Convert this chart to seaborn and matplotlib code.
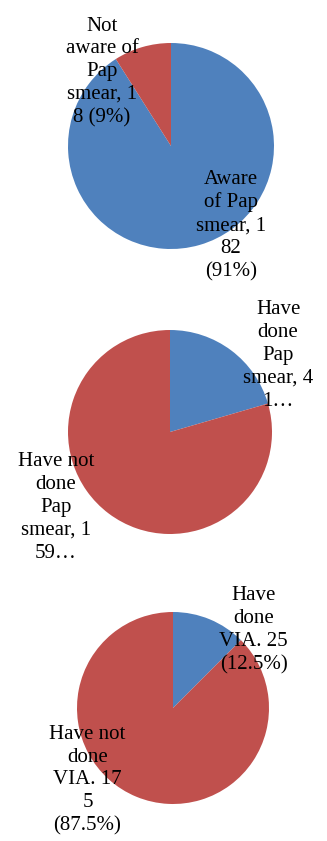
import matplotlib
matplotlib.use("Agg")
import matplotlib.pyplot as plt
import seaborn as sns

sns.set_theme(style="white")
plt.rcParams['font.family'] = ['Liberation Serif', 'DejaVu Serif']

# Data
awareness_labels = ["Aware\nof Pap\nsmear, 1\n82\n(91%)", "Not\naware of\nPap\nsmear, 1\n8 (9%)"]
awareness_values = [182, 18]
pap_labels = ["Have\ndone\nPap\nsmear, 4\n1\u2026", "Have not\ndone\nPap\nsmear, 1\n59\u2026"]
pap_values = [41, 159]
via_labels = ["Have\ndone\nVIA. 25\n(12.5%)", "Have not\ndone\nVIA. 17\n5\n(87.5%)"]
via_values = [25, 175]

colors = ["#4F81BD", "#C0504D"]

W, H = 327, 841
fig = plt.figure(figsize=(W / 100, H / 100), dpi=100)
fig.patch.set_facecolor("white")

# (center x px, center y px, radius px, label positions in radius units)
specs = [
    (171, 146, 103, awareness_values, awareness_labels, [(0.58, -0.77), (-0.67, 0.72)]),
    (170, 432, 102, pap_values, pap_labels, [(1.06, 0.75), (-1.12, -0.74)]),
    (173, 708, 96, via_values, via_labels, [(0.84, 0.81), (-0.89, -0.75)]),
]

s = 170
for cx, cy, r, vals, labs, pos in specs:
    ax = fig.add_axes([(cx - s) / W, 1 - (cy + s) / H, 2 * s / W, 2 * s / H])
    ax.pie(vals, colors=colors, startangle=90, counterclock=False, radius=1,
           wedgeprops=dict(linewidth=0))
    ax.set_xlim(-s / r, s / r)
    ax.set_ylim(-s / r, s / r)
    ax.set_aspect("equal")
    ax.axis("off")
    for lab, (x, y) in zip(labs, pos):
        ax.text(x, y, lab, ha="center", va="center", fontsize=15,
                linespacing=1.27, color="black")

fig.savefig("out.png", dpi=100)
